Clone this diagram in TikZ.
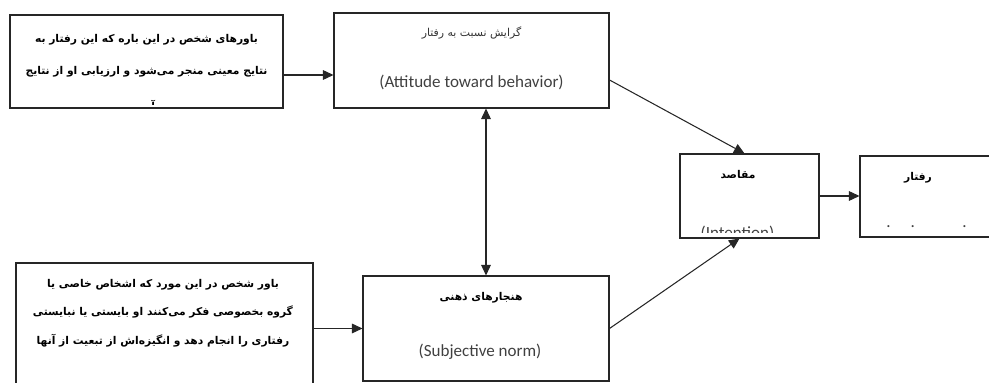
\documentclass[tikz,border=0pt]{standalone}
\usepackage{fontspec}
\newfontfamily\farsi[Script=Arabic]{DejaVu Sans}
\newfontfamily\latin{Carlito}
\TeXXeTstate=1
\usetikzlibrary{positioning, arrows.meta, calc}

\begin{document}
\begin{tikzpicture}[
    box/.style={draw=black!85, line width=0.6pt, rectangle, inner sep=0pt},
    fa/.style={font=\farsi\bfseries\fontsize{6.1}{18}\selectfont, align=center, inner sep=0pt},
    en/.style={font=\latin\fontsize{9.7}{11}\selectfont, text=black!75, inner sep=0pt},
    arr/.style={-{Triangle[length=6pt,width=5.5pt]}, line width=0.6pt, draw=black!85}
]
    \useasboundingbox (0,0) rectangle (19.78,7.66);

    % Boxes
    \node [box, minimum width=5.46cm, minimum height=1.86cm] (beliefs) at (2.93,6.43) {};
    \node [box, minimum width=5.50cm, minimum height=1.90cm] (attitude) at (9.43,6.45) {};
    \node [box, minimum width=2.78cm, minimum height=1.68cm] (intention) at (14.99,3.74) {};
    \node [box, minimum width=3.00cm, minimum height=1.62cm] (behavior) at (18.70,3.73) {};
    \node [box, minimum width=5.94cm, minimum height=2.64cm] (normbeliefs) at (3.29,1.08) {};
    \node [box, minimum width=4.92cm, minimum height=2.10cm] (subjnorm) at (9.72,1.09) {};

    % Texts
    \node [fa] (beliefs-txt) at (2.93,6.54) {\beginR باورهای شخص در این باره که این رفتار به\endR\\
        \beginR نتایج معینی منجر می‌شود و ارزیابی او از نتایج\endR};
    \begin{scope}
        \clip (beliefs.north west) rectangle ([yshift=0.09cm]beliefs.south east);
        \node [fa, anchor=base] (beliefs-end) at ([yshift=-0.03cm]beliefs.south) {\beginR آن.\endR};
    \end{scope}
    \node [fa, font=\farsi\fontsize{6.2}{9}\selectfont, text=black!80] (attitude-fa) at (9.43,7.0) {\beginR گرایش نسبت به رفتار\endR};
    \node [en] (attitude-en) at (9.43,6.02) {(Attitude toward behavior)};
    \node [fa] (intention-fa) at (14.76,4.16) {\beginR مقاصد\endR};
    \begin{scope}
        \clip (intention.north west) rectangle ([yshift=0.12cm]intention.south east);
        \node [en, anchor=base] (intention-en) at ([xshift=-0.24cm, yshift=0.01cm]intention.south) {(Intention)};
    \end{scope}
    \node [fa] (behavior-fa) at (18.36,4.1) {\beginR رفتار\endR};
    \node [en] (behavior-dots) at (18.53,3.12) {.\hspace{0.4cm}.\hspace{0.95cm}.};
    \node [fa, font=\farsi\bfseries\fontsize{6.1}{16.2}\selectfont] (normbeliefs-txt) at (3.26,1.40) {\beginR باور شخص در این مورد که اشخاص خاصی یا\endR\\
        \beginR گروه بخصوصی فکر می‌کنند او بایستی یا نبایستی\endR\\
        \beginR رفتاری را انجام دهد و انگیزه‌اش از تبعیت از آنها\endR};
    \node [fa] (subjnorm-fa) at (9.62,1.70) {\beginR هنجارهای ذهنی\endR};
    \node [en] (subjnorm-en) at (9.60,0.62) {(Subjective norm)};

    % Arrows
    \draw [arr] ([yshift=-0.27cm]beliefs.east) -- ([yshift=-0.27cm]beliefs.east -| attitude.west);
    \draw [arr, {Triangle[length=6pt,width=5.5pt]}-{Triangle[length=6pt,width=5.5pt]}] (subjnorm.north |- attitude.south) -- (subjnorm.north);
    \draw [arr] ([yshift=-0.39cm]attitude.east) -- ([xshift=-0.1cm]intention.north);
    \draw [arr] (subjnorm.east) -- ([xshift=-0.2cm]intention.south);
    \draw [arr] (intention.east) -- (intention.east -| behavior.west);
    \draw [arr] (normbeliefs.east |- subjnorm.west) -- (subjnorm.west);
\end{tikzpicture}
\end{document}
